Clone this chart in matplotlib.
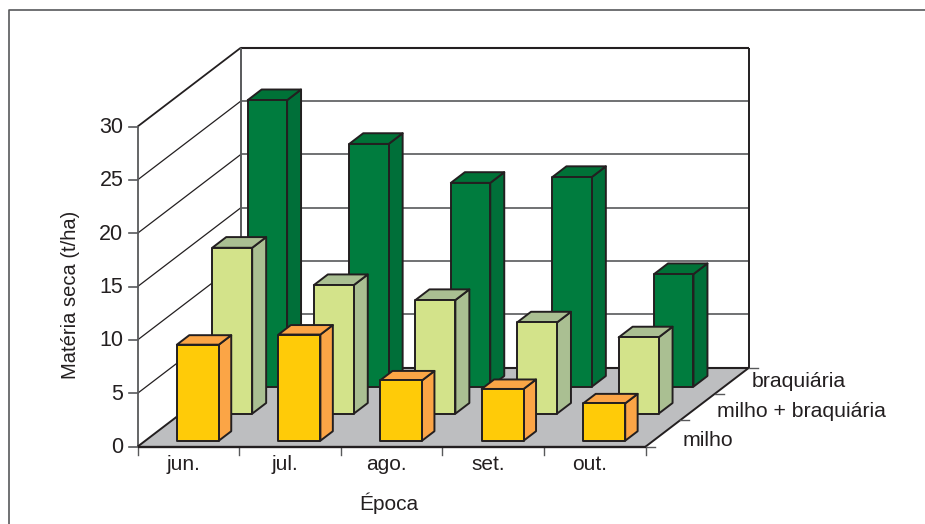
import matplotlib
matplotlib.use('Agg')
import matplotlib.pyplot as plt
from matplotlib.patches import Polygon

plt.rcParams['font.family'] = ['Liberation Sans', 'DejaVu Sans']

epocas = ['jun.', 'jul.', 'ago.', 'set.', 'out.']
tratamentos = ['milho', 'milho + braquiária', 'braquiária']
milho = [9.0, 9.95, 5.65, 4.85, 3.5]
milho_braquiaria = [15.55, 12.05, 10.65, 8.55, 7.15]
braquiaria = [26.85, 22.75, 19.1, 19.65, 10.55]
eixo_y = [0, 5, 10, 15, 20, 25, 30]

# frente, lateral, topo
cores = [
    ('#FFCB08', '#FBA546', '#FBA546'),
    ('#D3E38A', '#AABF92', '#AABF92'),
    ('#007C3E', '#006F39', '#007237'),
]
# largura e profundidade das barras em cada fileira
larguras = [0.413, 0.393, 0.388]
fundos = [0.12, 0.135, 0.135]

# escala da projecao obliqua em pixels
X0, Y0 = 137.5, 446.7
CAT_W = 101.6
UNID_Y = 10.67
PROF_X, PROF_Y = 103.5, -79.0

ESCURO = '#231F20'
CINZA = '#58595B'


def proj(cat, prof, val):
    return (X0 + cat * CAT_W + prof * PROF_X,
            Y0 - val * UNID_Y + prof * PROF_Y)


def face(ax, pts, cor, z):
    ax.add_patch(Polygon([proj(*p) for p in pts], closed=True, facecolor=cor,
                         edgecolor=ESCURO, linewidth=1.4, joinstyle='round', zorder=z))


def barra(ax, cat, prof, val, cor, larg, fundo, z):
    c0, c1 = cat + 0.31, cat + 0.31 + larg
    p0, p1 = prof, prof + fundo
    face(ax, [(c1, p0, 0), (c1, p1, 0), (c1, p1, val), (c1, p0, val)], cor[1], z)
    face(ax, [(c0, p0, val), (c1, p0, val), (c1, p1, val), (c0, p1, val)], cor[2], z)
    face(ax, [(c0, p0, 0), (c1, p0, 0), (c1, p0, val), (c0, p0, val)], cor[0], z + 0.1)


def linha(ax, a, b, cor=ESCURO, lw=1.0, z=1):
    pa, pb = proj(*a), proj(*b)
    ax.plot([pa[0], pb[0]], [pa[1], pb[1]], color=cor, lw=lw, zorder=z,
            solid_capstyle='butt')


fig = plt.figure(figsize=(9.25, 5.24), dpi=100)
ax = fig.add_axes([0, 0, 1, 1])
ax.set_xlim(0, 925)
ax.set_ylim(524, 0)
ax.axis('off')

# moldura externa
ax.plot([8.5, 8.5, 925], [524, 10, 10], color='#58595B', lw=1.2, zorder=0)

n = len(epocas)
topo = eixo_y[-1]

# piso
ax.add_patch(Polygon([proj(0, 0, 0), proj(n, 0, 0), proj(n, 1, 0), proj(0, 1, 0)],
                     closed=True, facecolor='#BDBEC0', edgecolor='none', zorder=1))

# grade das paredes
for v in eixo_y[1:-1]:
    linha(ax, (0, 0, v), (0, 1, v), ESCURO, 0.9, 1.2)
    linha(ax, (0, 1, v), (n, 1, v), CINZA, 1.2, 1.2)

linha(ax, (0, 0, topo), (0, 1, topo), ESCURO, 1.3, 1.5)
linha(ax, (0, 1, topo), (n, 1, topo), ESCURO, 1.5, 1.5)
linha(ax, (n, 1, 0), (n, 1, topo), ESCURO, 1.4, 1.5)
linha(ax, (0, 1, 0), (0, 1, topo), CINZA, 1.4, 1.5)
linha(ax, (0, 0, 0), (0, 0, topo), CINZA, 1.3, 1.5)
linha(ax, (0, 1, 0), (n, 1, 0), ESCURO, 1.5, 1.5)
linha(ax, (0, 0, 0), (0, 1, 0), ESCURO, 1.4, 1.5)
linha(ax, (n, 0, 0), (n, 1, 0), ESCURO, 1.4, 1.5)
linha(ax, (0, 0, 0), (n, 0, 0), ESCURO, 1.7, 5)

# barras, da fileira de tras para a da frente
series = [milho, milho_braquiaria, braquiaria]
for i in [2, 1, 0]:
    prof = 0.076 + i * 0.342
    for j, val in enumerate(series[i]):
        barra(ax, j, prof, val, cores[i], larguras[i], fundos[i], 2 + (2 - i) + j * 0.01)

# eixo de valores
for v in eixo_y:
    x, y = proj(0, 0, v)
    ax.plot([x - 9, x], [y, y], color=CINZA, lw=1.2, zorder=1.5)
    ax.text(x - 14, y + 1, str(v), ha='right', va='center', fontsize=15.5, color=ESCURO)

# eixo das epocas
for j in range(n + 1):
    x, y = proj(j, 0, 0)
    ax.plot([x, x], [y, y + 8], color=CINZA, lw=1.0, zorder=1.5)
for j, nome in enumerate(epocas):
    x, y = proj(j + 0.45, 0, 0)
    ax.text(x, y + 18, nome, ha='center', va='center', fontsize=15, color=ESCURO)

# eixo de profundidade
for i in range(len(tratamentos) + 1):
    x, y = proj(n, i / 3, 0)
    ax.plot([x, x + 9], [y, y], color=CINZA, lw=1.0, zorder=1.5)
for i, nome in enumerate(tratamentos):
    x, y = proj(n, i / 3, 0)
    ax.text(x + 37, y - 6 - i * 3.3, nome, ha='left', va='center', fontsize=15.3, color=ESCURO)

ax.text(389, 503, 'Época', ha='center', va='center', fontsize=15, color=ESCURO)
ax.text(70.5, 295, 'Matéria seca (t/ha)', rotation=90, ha='center', va='center',
        fontsize=14.5, color=ESCURO)

fig.savefig('out.png', dpi=100)
